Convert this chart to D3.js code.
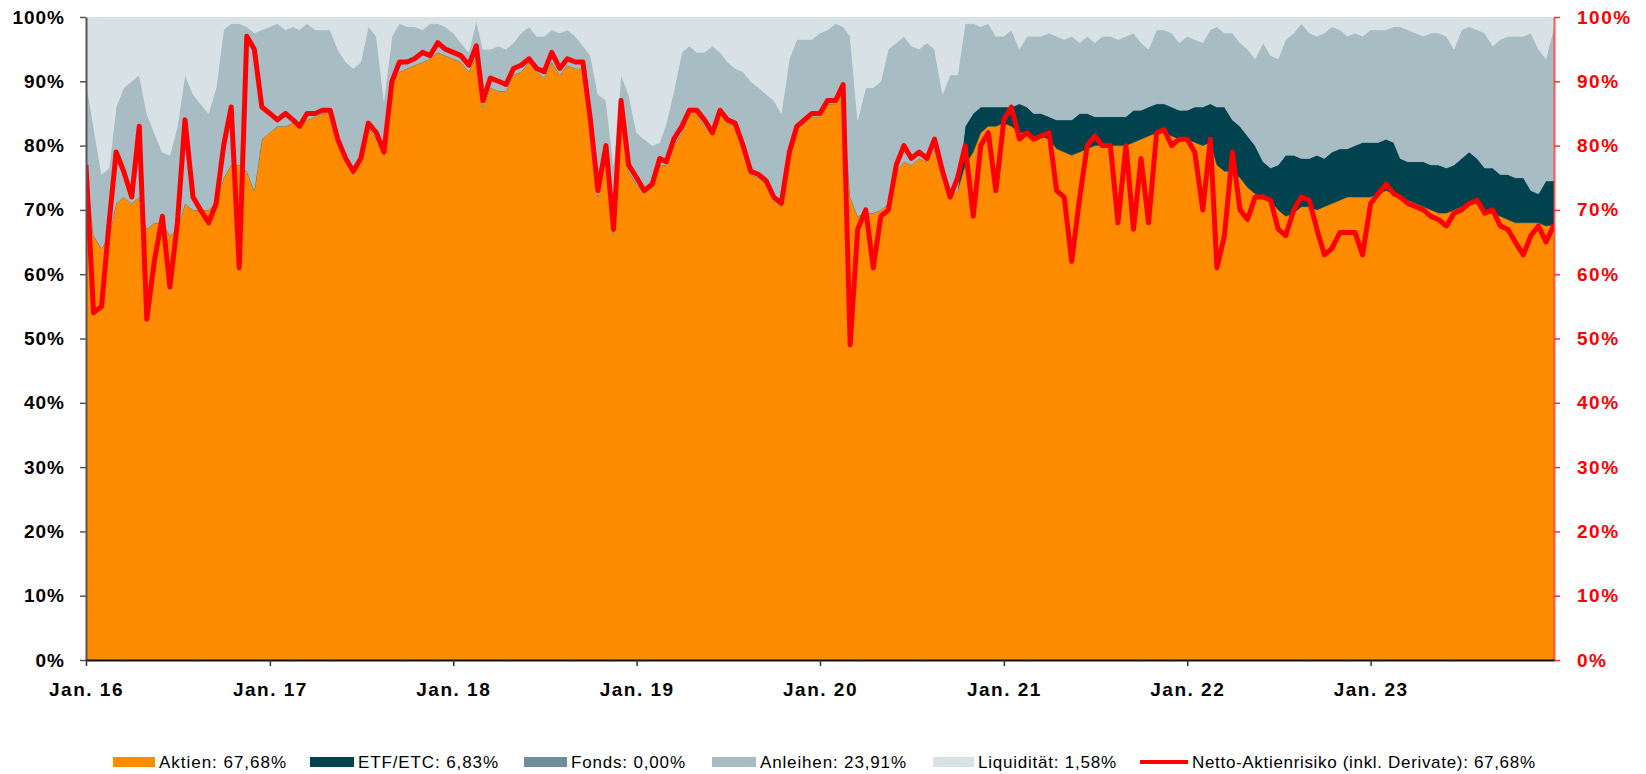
<!DOCTYPE html>
<html>
<head>
<meta charset="utf-8">
<script src="https://cdn.jsdelivr.net/npm/d3@7"></script>
<style>
    body { margin: 0; background: #ffffff; }
    svg text { font-family: "Liberation Sans", Arial, sans-serif; }
</style>
</head>
<body>
<svg id="chart_svg"></svg>
<script>
/**
 * Data (semi-monthly, Jan 2016 .. end 2023)
 */
var years = [2016, 2017, 2018, 2019, 2020, 2021, 2022, 2023];
var tickLabels = ["Jan. 16", "Jan. 17", "Jan. 18", "Jan. 19", "Jan. 20", "Jan. 21", "Jan. 22", "Jan. 23"];
var yTicks = [0, 10, 20, 30, 40, 50, 60, 70, 80, 90, 100];

var aktien = [
    78,66,64,66,71,72,71,72,67,68,68,66,67,71,70,70,70,71,75,77,77,76,73,81,
    82,83,83,83.5,83,84,84.5,85,85,81,78,75.5,77.5,83,81,78.5,89.5,91.5,92,92.5,93,93.5,94.5,94,
    93.5,93,91.5,94,86,89,88.5,88.5,91,91.5,93,91.5,90.5,93,91,92.5,92,92,83,72,79,66,86,76,
    74,72.5,73.5,77,77,80,82,85,85,83,81.5,85,83.5,83,79,75.5,75,74,71.5,70.5,78,82.5,83.5,84.5,
    84.5,86.5,86.5,89,72,69,69.5,69.5,70,71,76,77.5,77,78,77.5,79.5,75,72,73,77,79,82,83,83,
    83.5,83,82,82,81.5,81.5,81,79.5,79,78.5,79,79.5,80,80,80,80,80,80.5,81,81.5,82,82,81.5,81,
    81,80.5,80,80.5,77,76,76,75,73.5,72.5,72,71.5,70,69,69.5,70.5,70.5,70,70.5,71,71.5,72,72,72,
    72,72.5,73,72.5,72,71.5,71,70.5,70,69.5,69.5,70,70.5,71,71,70,69.5,69,68.5,68,68,68,68,67.5,
    67.68
];
var etf = [
    0,0,0,0,0,0,0,0,0,0,0,0,0,0,0,0,0,0,0,0,0,0,0,0,
    0,0,0,0,0,0,0,0,0,0,0,0,0,0,0,0,0,0,0,0,0,0,0,0,
    0,0,0,0,0,0,0,0,0,0,0,0,0,0,0,0,0,0,0,0,0,0,0,0,
    0,0,0,0,0,0,0,0,0,0,0,0,0,0,0,0,0,0,0,0,0,0,0,0,
    0,0,0,0,0,0,0,0,0,0,0,0,0,0,0,0,0,0,0,6,6,4,3,3,
    2.5,3,4.5,4,3.5,3.5,3.5,4.5,5,5.5,6,5.5,4.5,4.5,4.5,4.5,4.5,5,4.5,4.5,4.5,4.5,4.5,4.5,
    4.5,5.5,6,6,9,10,8,8,8,7.5,5.5,5,7,9.5,9,7.5,7.5,8.5,7.5,8,8,7.5,8,8.5,
    8.5,8,8,8,6,6,6.5,7,7,7.5,7,7,7.5,8,7,6.5,7,6.5,7,7,7,5,4.5,7,
    6.83
];
var anleihen = [
    12,17,11.5,10.5,15,17,19,19,18,14,11,12.5,16,20,18,16.5,15,18,23,22,22,22.5,24.5,17,
    16.5,16,15,15,15,15,13.5,13,13,14,15,16.5,15.5,15.5,16,8.5,7.5,7.5,6.5,6,5,5.5,4.5,4.5,
    4,3,3,5.5,9,6,7,6.5,5,6,5.5,5.5,6.5,5,6.5,5.5,5,3.5,11,16,8,11,5,12,
    8,8.5,6.5,3.5,6.5,8.5,12.5,10.5,9.5,11.5,14,9.5,9.5,9,12.5,14.5,14,14,15.5,14.5,15.5,14,13,12,
    13,11.5,12.5,9.5,25,15,19.5,19.5,20,24,20,19.5,18.5,17,18.5,15.5,13,19,18,16,14,12.5,13,11,
    11,12,8.5,11,12,12,13,13,12.5,13,11,12,11.5,12.5,12.5,12,12.5,12,10.5,9,11.5,11.5,11.5,10.5,
    11.5,10.5,10,11.5,12.5,11.5,13.5,13,13.5,13.5,18.5,17.5,16.5,18,19,21,19.5,18.5,19.5,19.5,18.5,17.5,17.5,16.5,
    17.5,17.5,17,18,20.5,20.5,20,19.5,20.5,20.5,20.5,18,20,19.5,20,21,19,21,21.5,22,22,24.5,22.5,19,
    23.91
];
var liquiditaet = [
    10,17,24.5,23.5,14,11,10,9,15,18,21,21.5,17,9,12,13.5,15,11,2,1,1,1.5,2.5,2,
    1.5,1,2,1.5,2,1,2,2,2,5,7,8,7,1.5,3,13,3,1,1.5,1.5,2,1,1,1.5,
    2.5,4,5.5,0.5,5,5,4.5,5,4,2.5,1.5,3,3,2,2.5,2,3,4.5,6,12,13,23,9,12,
    18,19,20,19.5,16.5,11.5,5.5,4.5,5.5,5.5,4.5,5.5,7,8,8.5,10,11,12,13,15,6.5,3.5,3.5,3.5,
    2.5,2,1,1.5,3,16,11,11,10,5,4,3,4.5,5,4,5,12,9,9,1,1,1.5,1,3,
    3,2,5,3,3,3,2.5,3,3.5,3,4,3,4,3,3,3.5,3,2.5,4,5,2,2,2.5,4,
    3,3.5,4,2,1.5,2.5,2.5,4,5,6.5,4,6,6.5,3.5,2.5,1,2.5,3,2.5,1.5,2,3,2.5,3,
    2,2,2,1.5,1.5,2,2.5,3,2.5,2.5,3,5,2,1.5,2,2.5,4.5,3.5,3,3,3,2.5,5,6.5,
    1.58
];
var netto = [
    77,54,55,68,79,76,72,83,53,62,69,58,68,84,72,70,68,71,80,86,61,97,95,86,
    85,84,85,84,83,85,85,85.5,85.5,81,78,76,78,83.5,82,79,90,93,93,93.5,94.5,94,96,95,
    94.5,94,92.5,95.5,87,90.5,90,89.5,92,92.5,93.5,92,91.5,94.5,92,93.5,93,93,84,73,80,67,87,77,
    75,73,74,78,77.5,81,83,85.5,85.5,84,82,85.5,84,83.5,80,76,75.5,74.5,72,71,79,83,84,85,
    85,87,87,89.5,49,67,70,61,69,70,77,80,78,79,78,81,76,72,75,80,69,80,82,73,
    84,86,81,82,81,81.5,82,73,72,62,72,80,81.5,80,80,68,80,67,78,68,82,82.5,80,81,
    81,79,70,81,61,66,79,70,68.5,72,72,71.5,67,66,70,72,71.5,67,63,64,66.5,66.5,66.5,63,
    71,72.5,74,72.5,72,71,70.5,70,69,68.5,67.5,69.5,70,71,71.5,69.5,70,67.5,67,65,63,66,67.5,65,
    67.68
];

var seriesKeys = ["aktien", "etf", "anleihen", "liquiditaet"];
var legendLabels = ["Aktien: 67,68%", "ETF/ETC: 6,83%", "Fonds: 0,00%", "Anleihen: 23,91%",
                    "Liquidität: 1,58%", "Netto-Aktienrisiko (inkl. Derivate): 67,68%"];

window.onload = function(){
    var chart = new AllocationChart();
    chart.svg = d3.select("#chart_svg");
    chart.draw();
};

var AllocationChart = function(){
    this.width = 1646;
    this.height = 774;
    this.margin = {top: 17, right: 92, bottom: 114, left: 86};
    this.colors = {
        aktien: "#ff8c00",
        etf: "#00434f",
        fonds: "#6f8e98",
        anleihen: "#a8bcc3",
        liquiditaet: "#d8e1e5",
        netto: "#ff0000"
    };
    this.svg;

    this.draw = function(){
        var m = this.margin,
            colors = this.colors,
            w = this.width - m.left - m.right,
            h = this.height - m.top - m.bottom;

        this.svg.attr("width", this.width).attr("height", this.height);

        // semi-monthly dates, last point is the end of 2023
        var dates = [];
        years.forEach(function(y){
            for(var mo = 0; mo < 12; mo++){
                dates.push(new Date(y, mo, 1));
                dates.push(new Date(y, mo, 16));
            }
        });
        dates.push(new Date(2024, 0, 1));

        var rows = dates.map(function(d, i){
            return {date: d, aktien: aktien[i], etf: etf[i], anleihen: anleihen[i],
                    liquiditaet: liquiditaet[i], netto: netto[i]};
        });

        var x = d3.scaleTime()
            .domain([new Date(2016, 0, 1), new Date(2024, 0, 1)])
            .range([0, w]);
        var y = d3.scaleLinear()
            .domain([0, 100])
            .range([h, 0]);

        var g = this.svg.append("g")
            .attr("transform", "translate(" + m.left + "," + m.top + ")");

        g.append("clipPath").attr("id", "plot-clip")
            .append("rect").attr("width", w).attr("height", h);

        var stacked = d3.stack().keys(seriesKeys)(rows);

        var area = d3.area()
            .x(function(d){ return x(d.data.date); })
            .y0(function(d){ return y(d[0]); })
            .y1(function(d){ return y(d[1]); });

        g.append("g")
            .attr("clip-path", "url(#plot-clip)")
            .selectAll("path")
            .data(stacked)
            .enter()
            .append("path")
            .attr("d", area)
            .style("fill", function(d){ return colors[d.key]; })
            .style("stroke", function(d){ return colors[d.key]; })
            .style("stroke-width", "0.5px");

        var line = d3.line()
            .x(function(d){ return x(d.date); })
            .y(function(d){ return y(d.netto); });

        g.append("path")
            .datum(rows)
            .attr("d", line)
            .attr("clip-path", "url(#plot-clip)")
            .style("fill", "none")
            .style("stroke", colors.netto)
            .style("stroke-width", "5px")
            .style("stroke-linejoin", "round");

        // left axis
        var left = g.append("g")
            .call(d3.axisLeft(y).tickValues(yTicks).tickSize(6).tickSizeOuter(0).tickPadding(15)
                .tickFormat(function(d){ return d + "%"; }));
        left.select(".domain").style("stroke", "#555555").style("stroke-width", "2px");
        left.selectAll(".tick line").style("stroke", "#555555").style("stroke-width", "1.5px");
        left.selectAll("text")
            .style("font-size", "19px").style("font-weight", "bold")
            .style("fill", "#000000").style("letter-spacing", "1px");

        // right axis
        var right = g.append("g")
            .attr("transform", "translate(" + w + ",0)")
            .call(d3.axisRight(y).tickValues(yTicks).tickSize(6).tickSizeOuter(0).tickPadding(17)
                .tickFormat(function(d){ return d + "%"; }));
        right.select(".domain").style("stroke", "#ff3030").style("stroke-width", "2px").style("opacity", 0.8);
        right.selectAll(".tick line").style("stroke", "#ff3030").style("stroke-width", "1.5px");
        right.selectAll("text")
            .style("font-size", "19px").style("font-weight", "bold")
            .style("fill", "#ff0000").style("letter-spacing", "1.5px");

        // bottom axis
        var jan = years.map(function(yr){ return new Date(yr, 0, 1); });
        var bottom = g.append("g")
            .attr("transform", "translate(0," + h + ")")
            .call(d3.axisBottom(x).tickValues(jan).tickSize(6).tickSizeOuter(0).tickPadding(17)
                .tickFormat(function(d, i){ return tickLabels[i]; }));
        bottom.select(".domain").style("stroke", "#111111").style("stroke-width", "2px");
        bottom.selectAll(".tick line").style("stroke", "#333333").style("stroke-width", "1.5px");
        bottom.selectAll("text")
            .style("font-size", "19px").style("font-weight", "bold")
            .style("fill", "#000000").style("letter-spacing", "1.5px");

        // legend
        var legendX = [113, 310, 524, 712, 933, 1140],
            swatchW = [42, 44, 43, 44, 41, 48],
            textW = [127, 140, 114, 146, 138, 343],
            legendColors = [colors.aktien, colors.etf, colors.fonds, colors.anleihen, colors.liquiditaet, colors.netto];

        var legend = this.svg.append("g").attr("class", "legend");
        legendLabels.forEach(function(lbl, i){
            if(i === 5){
                legend.append("rect")
                    .attr("x", legendX[i]).attr("y", 760)
                    .attr("width", swatchW[i]).attr("height", 4)
                    .style("fill", legendColors[i]);
            } else {
                legend.append("rect")
                    .attr("x", legendX[i]).attr("y", 757)
                    .attr("width", swatchW[i]).attr("height", 10)
                    .style("fill", legendColors[i]);
            }
            legend.append("text")
                .attr("x", legendX[i] + swatchW[i] + 4)
                .attr("y", 768)
                .attr("textLength", textW[i])
                .attr("lengthAdjust", "spacing")
                .style("font-size", "17px")
                .style("fill", "#000000")
                .text(lbl);
        });
    };
};
</script>
</body>
</html>
